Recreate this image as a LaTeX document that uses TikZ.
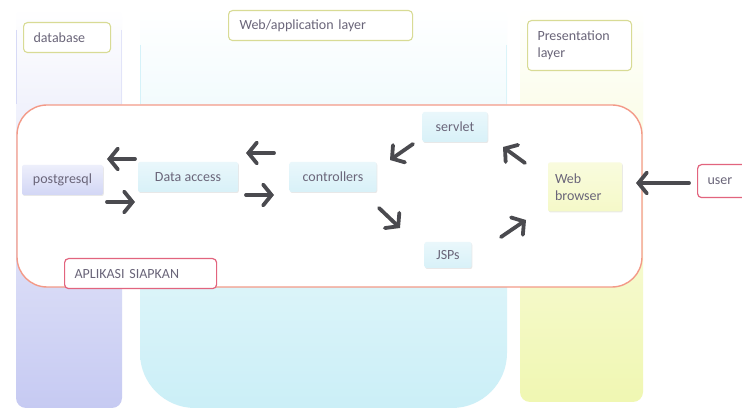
\documentclass[tikz,border=0pt]{standalone}
\usepackage{fontspec}
\setmainfont{Carlito}
\usetikzlibrary{arrows.meta,shadows}

\definecolor{txt}{HTML}{6A6579}
\definecolor{dbcol}{HTML}{C6CAF2}
\definecolor{webcol}{HTML}{CBEFF7}
\definecolor{prescol}{HTML}{F0F7B2}
\definecolor{olive}{HTML}{D8DB95}
\definecolor{pinkline}{HTML}{E2647E}
\definecolor{salmon}{HTML}{F39A88}
\definecolor{arrowgrey}{HTML}{4A4A4F}
\definecolor{cyanbox}{HTML}{D8F1F8}
\definecolor{lavbox}{HTML}{D2D6F5}
\definecolor{yelbox}{HTML}{F5F9C8}

\tikzset{
  every node/.style={font=\fontsize{14}{17}\selectfont, text=txt},
  layertag/.style={draw=olive, line width=1.1pt, fill=white, rounded corners=4pt,
    inner xsep=10pt, inner ysep=0pt, align=left, anchor=north west},
  redtag/.style={draw=pinkline, line width=1.2pt, fill=white, rounded corners=4pt,
    inner xsep=10pt, inner ysep=0pt, align=left, anchor=north west},
  compbox/.style={rounded corners=2pt, inner sep=0pt,
    drop shadow={shadow xshift=0.8pt, shadow yshift=-1pt, opacity=0.18, fill=gray}},
  flow/.style={draw=arrowgrey, line width=3.8pt, line cap=round,
    -{Straight Barb[length=8.5pt, width=21pt, line cap=round]}},
}

\begin{document}
\begin{tikzpicture}[x=1pt, y=-1pt]
  \useasboundingbox (0,0) rectangle (742,411);
  \fill[white] (0,0) rectangle (742,411);

  % layer columns, fading in from the top
  \shade[top color=white, middle color=dbcol!40, bottom color=dbcol, rounded corners=10pt]
    (16,8) rectangle (122,408);
  \shade[top color=white, middle color=webcol!55, bottom color=webcol]
    (140,18) [rounded corners=10pt] -- (140,8) -- (507,8)
    [rounded corners=55pt] -- (507,408) -- (140,408) [rounded corners=10pt] -- cycle;
  \shade[top color=white, middle color=prescol!45, bottom color=prescol, rounded corners=10pt]
    (520,8) rectangle (643,402);
  \draw[dbcol!70, line width=0.6pt] (16,30) -- (16,104);
  \draw[dbcol!50, line width=0.6pt] (121,30) -- (121,104);
  \draw[webcol!80, line width=0.6pt] (140,45) -- (140,104);
  \draw[webcol!70, line width=0.6pt] (506,45) -- (506,104);

  % application container
  \draw[salmon, line width=1.4pt, fill=white, rounded corners=30pt]
    (17,105) rectangle (642,287);

  % layer titles
  \node[layertag, minimum width=87pt, minimum height=30pt, text width=67pt]
    (dbtag) at (23,22) {database};
  \node[layertag, minimum width=184pt, minimum height=30pt, text width=162pt]
    (webtag) at (228,10) {Web/application layer};
  \node[layertag, minimum width=104pt, minimum height=50pt, text width=84pt]
    (prestag) at (527,20) {Presentation\\layer};
  \node[redtag, minimum width=152pt, minimum height=30pt, text width=132pt]
    (apptag) at (64,258) {APLIKASI SIAPKAN};
  \node[redtag, minimum width=56pt, minimum height=33pt, text width=36pt]
    (user) at (697,164) {user};

  % components
  \node[compbox, top color=lavbox!40, bottom color=lavbox, minimum width=81pt,
        minimum height=30pt] (pg) at (62.5,180) {postgresql};
  \node[compbox, top color=cyanbox!55, bottom color=cyanbox, minimum width=100pt,
        minimum height=30pt] (da) at (188,177) {Data access};
  \node[compbox, top color=cyanbox!55, bottom color=cyanbox, minimum width=87pt,
        minimum height=30pt] (ctrl) at (333,177) {controllers};
  \node[compbox, top color=cyanbox!55, bottom color=cyanbox, minimum width=65pt,
        minimum height=30pt] (servlet) at (455,127) {servlet};
  \node[compbox, top color=cyanbox!55, bottom color=cyanbox, minimum width=47pt,
        minimum height=26pt] (jsp) at (448,255) {JSPs};
  \node[compbox, top color=yelbox!60, bottom color=yelbox, minimum width=74pt,
        minimum height=49pt, align=left, text width=60pt] (wb) at (585,187)
        {Web\\browser};

  % arrow end points
  \coordinate (a1s) at (135,159); \coordinate (a1e) at (107,159);
  \coordinate (a2s) at (107,202); \coordinate (a2e) at (135,202);
  \coordinate (a3s) at (274,153); \coordinate (a3e) at (246,153);
  \coordinate (a4s) at (246,195); \coordinate (a4e) at (274,195);
  \coordinate (a5s) at (413,144); \coordinate (a5e) at (390,160);
  \coordinate (a6s) at (379,208); \coordinate (a6e) at (400,228);
  \coordinate (a7s) at (525,163); \coordinate (a7e) at (503,147);
  \coordinate (a8s) at (501,237); \coordinate (a8e) at (526,220);
  \coordinate (a9s) at (689,183); \coordinate (a9e) at (636,183);

  \draw[flow] (a1s) -- (a1e);
  \draw[flow] (a2s) -- (a2e);
  \draw[flow] (a3s) -- (a3e);
  \draw[flow] (a4s) -- (a4e);
  \draw[flow] (a5s) -- (a5e);
  \draw[flow] (a6s) -- (a6e);
  \draw[flow] (a7s) -- (a7e);
  \draw[flow] (a8s) -- (a8e);
  \draw[flow] (a9s) -- (a9e);
\end{tikzpicture}
\end{document}
